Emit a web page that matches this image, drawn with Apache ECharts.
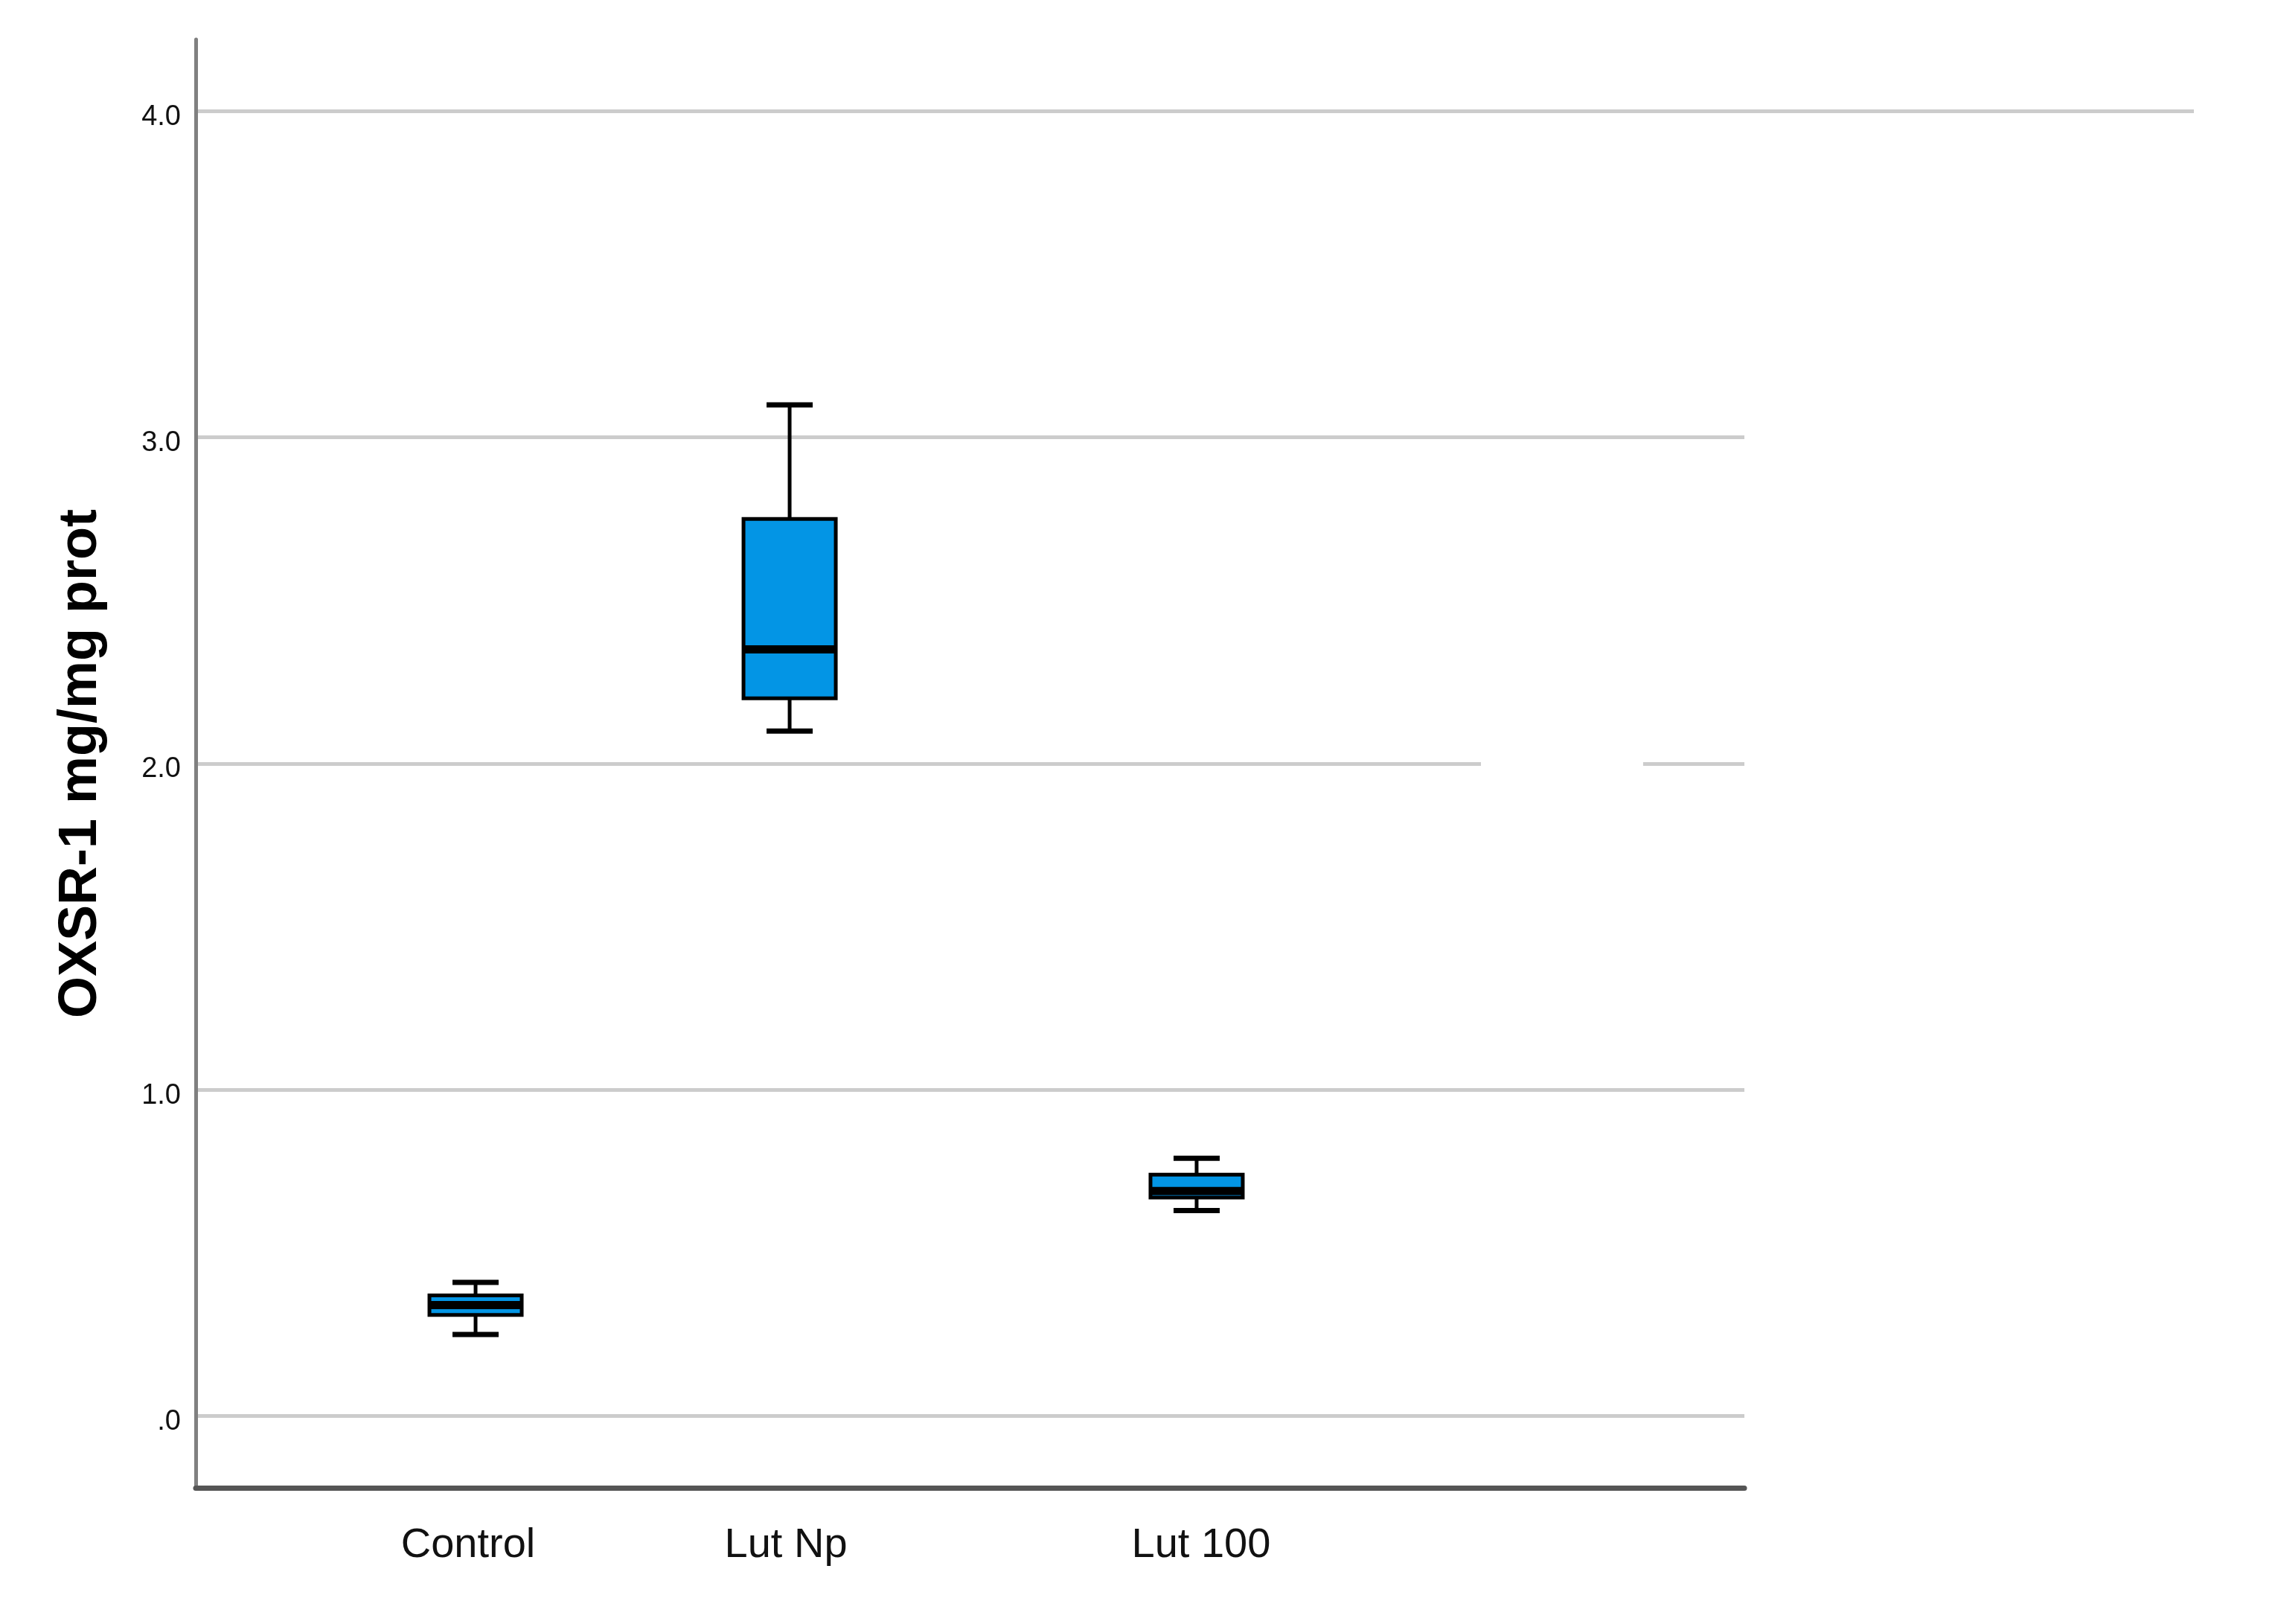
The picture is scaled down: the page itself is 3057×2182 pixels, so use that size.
<!DOCTYPE html>
<html>
<head>
<meta charset="utf-8">
<script src="https://cdn.jsdelivr.net/npm/echarts@6/dist/echarts.min.js"></script>
<style>
  html, body { margin: 0; padding: 0; background: #ffffff; }
  #chart { width: 3057px; height: 2182px; }
</style>
</head>
<body>
<div id="chart"></div>
<script>
// ---- data ----
const categories   = ['Control', 'Lut Np', 'Lut 100'];
const minVals      = [0.25, 2.10, 0.63];
const q1Vals       = [0.31, 2.20, 0.67];
const medianVals   = [0.34, 2.35, 0.69];
const q3Vals       = [0.37, 2.75, 0.74];
const maxVals      = [0.41, 3.10, 0.79];
const yTickValues  = [0, 1, 2, 3, 4];
const yTickLabels  = ['.0', '1.0', '2.0', '3.0', '4.0'];
const yAxisTitle   = 'OXSR-1 mg/mg prot';

// ---- layout / style constants ----
const CATEGORY_POS = [0.1807, 0.3835, 0.6463];   // uneven category spacing on a 0..1 axis
const LABEL_POS    = [0.1759, 0.3811, 0.6492];   // label anchors (slightly off the boxes, as in the reference)
const Y_MIN = -0.22, Y_MAX = 4.22;
const BOX_W = 124, CAP_W = 62;
const BOX_FILL = '#0395E5';
const GRID_COLOR = '#cccccc';
const GAP_START = 0.8299, GAP_END = 0.9346;      // break in the 2.0 grid line
const SANS = '"Liberation Sans", Arial, sans-serif';

const boxData = categories.map((c, i) => [CATEGORY_POS[i], minVals[i], q1Vals[i], medianVals[i], q3Vals[i], maxVals[i]]);

const mainGridLines = [];
const extendedGridLines = [];
yTickValues.forEach(v => {
  if (v === yTickValues[yTickValues.length - 1]) {
    extendedGridLines.push({ yAxis: v });
  } else if (v === 2) {
    mainGridLines.push([{ coord: [0, v] }, { coord: [GAP_START, v] }]);
    mainGridLines.push([{ coord: [GAP_END, v] }, { coord: [1, v] }]);
  } else {
    mainGridLines.push({ yAxis: v });
  }
});

function gridMarkLine(data) {
  return {
    silent: true, symbol: ['none', 'none'], z: 1,
    label: { show: false },
    lineStyle: { color: GRID_COLOR, width: 5, type: 'solid' },
    emphasis: { disabled: true },
    animation: false,
    data: data
  };
}

function renderBox(params, api) {
  const x = api.value(0);
  const pMin = api.coord([x, api.value(1)]);
  const pQ1  = api.coord([x, api.value(2)]);
  const pMed = api.coord([x, api.value(3)]);
  const pQ3  = api.coord([x, api.value(4)]);
  const pMax = api.coord([x, api.value(5)]);
  const cx = pMin[0];
  const hw = BOX_W / 2, cw = CAP_W / 2;
  const black = '#000000';
  return {
    type: 'group',
    children: [
      { type: 'line', shape: { x1: cx, y1: pQ3[1], x2: cx, y2: pMax[1] }, style: { stroke: black, lineWidth: 5 } },
      { type: 'line', shape: { x1: cx, y1: pQ1[1], x2: cx, y2: pMin[1] }, style: { stroke: black, lineWidth: 5 } },
      { type: 'line', shape: { x1: cx - cw, y1: pMax[1], x2: cx + cw, y2: pMax[1] }, style: { stroke: black, lineWidth: 7 } },
      { type: 'line', shape: { x1: cx - cw, y1: pMin[1], x2: cx + cw, y2: pMin[1] }, style: { stroke: black, lineWidth: 7 } },
      { type: 'rect', shape: { x: cx - hw, y: pQ3[1], width: BOX_W, height: pQ1[1] - pQ3[1] },
        style: { fill: BOX_FILL, stroke: black, lineWidth: 5 } },
      { type: 'line', shape: { x1: cx - hw, y1: pMed[1], x2: cx + hw, y2: pMed[1] }, style: { stroke: black, lineWidth: 11 } }
    ]
  };
}

const chart = echarts.init(document.getElementById('chart'));
chart.setOption({
  animation: false,
  backgroundColor: '#ffffff',
  grid: [
    { left: 263, right: 713, top: 53, bottom: 183 },
    { left: 263, right: 109, top: 53, bottom: 183 }
  ],
  xAxis: [
    {
      type: 'value', gridIndex: 0, min: 0, max: 1, z: 3,
      axisLine: { show: true, onZero: false, lineStyle: { color: '#555555', width: 7 } },
      axisTick: { show: false },
      splitLine: { show: false },
      axisLabel: {
        customValues: LABEL_POS,
        formatter: function (v) {
          let best = 0;
          LABEL_POS.forEach((p, i) => { if (Math.abs(p - v) < Math.abs(LABEL_POS[best] - v)) best = i; });
          return categories[best];
        },
        fontFamily: SANS, fontSize: 56, color: '#111111', margin: 50
      }
    },
    { type: 'value', gridIndex: 1, min: 0, max: 1, show: false }
  ],
  yAxis: [
    {
      type: 'value', gridIndex: 0, min: Y_MIN, max: Y_MAX, z: 3,
      axisLine: { show: true, onZero: false, lineStyle: { color: '#808080', width: 5 } },
      axisTick: { show: false },
      splitLine: { show: false },
      axisLabel: {
        customValues: yTickValues,
        formatter: function (v) {
          const i = yTickValues.indexOf(Math.round(v));
          return i >= 0 ? yTickLabels[i] : '';
        },
        fontFamily: SANS, fontSize: 38, color: '#111111', margin: 20,
        verticalAlign: 'top', lineHeight: 16
      },
      name: yAxisTitle,
      nameLocation: 'middle',
      nameGap: 118,
      nameTextStyle: { fontFamily: SANS, fontWeight: 'bold', fontSize: 72, color: '#000000' }
    },
    { type: 'value', gridIndex: 1, min: Y_MIN, max: Y_MAX, show: false }
  ],
  series: [
    {
      type: 'line', xAxisIndex: 0, yAxisIndex: 0, data: [], silent: true, z: 1,
      markLine: gridMarkLine(mainGridLines)
    },
    {
      type: 'line', xAxisIndex: 1, yAxisIndex: 1, data: [], silent: true, z: 1,
      markLine: gridMarkLine(extendedGridLines)
    },
    {
      type: 'custom', xAxisIndex: 0, yAxisIndex: 0, z: 4,
      renderItem: renderBox,
      encode: { x: 0, y: [1, 2, 3, 4, 5] },
      data: boxData
    }
  ]
});
</script>
</body>
</html>
